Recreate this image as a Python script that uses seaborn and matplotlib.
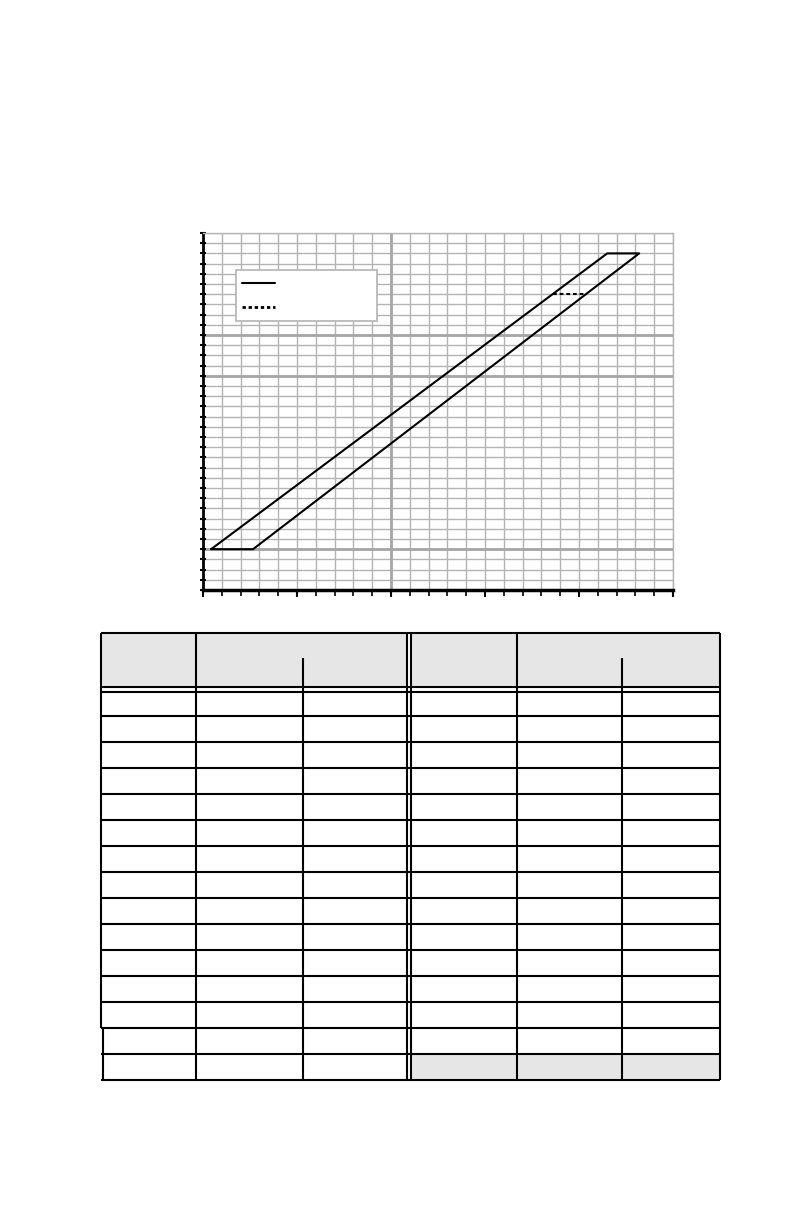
import numpy as np
import pandas as pd
import seaborn as sns
import matplotlib.pyplot as plt
from matplotlib.lines import Line2D
from matplotlib.patches import Rectangle

# chart values (grid cell units)
band_x = [0.43, 21.5, 23.2, 2.66, 0.43]
band_y = [4, 33, 33, 4, 4]
dash_x = [18.6, 20.4]
dash_y = [29, 29]

x_max = 25
y_max = 35
x_major = [10]
y_major = [4, 21, 25]

# table layout (pixels of the page)
col_edges = [101, 196, 303, 407, 411, 517, 622, 720]
split_cols = [303, 622]
n_rows = 15

sns.set_style('white')
fig = plt.figure(figsize=(7.92, 12.24), dpi=100)
W, H = 792, 1224

# ---- chart ----
ax = fig.add_axes([203 / W, 1 - 590 / H, 470 / W, 357 / H])
ax.set_xlim(0, x_max)
ax.set_ylim(0, y_max)

for xv in range(1, x_max + 1):
    ax.axvline(xv, color='#b3b3b3', lw=1.0, zorder=0)
for yv in range(1, y_max + 1):
    ax.axhline(yv, color='#b3b3b3', lw=1.0, zorder=0)
for xv in x_major:
    ax.axvline(xv, color='#a6a6a6', lw=2.0, zorder=0)
for yv in y_major:
    ax.axhline(yv, color='#a6a6a6', lw=2.0, zorder=0)

band = pd.DataFrame({'x': band_x, 'y': band_y})
sns.lineplot(data=band, x='x', y='y', sort=False, estimator=None,
             color='black', lw=1.5, ax=ax)
dash = pd.DataFrame({'x': dash_x, 'y': dash_y})
sns.lineplot(data=dash, x='x', y='y', sort=False, estimator=None,
             color='black', lw=1.5, linestyle=(0, (1.8, 1.4)), ax=ax)

ax.set_xlabel('')
ax.set_ylabel('')
ax.set_xticks(np.arange(0, x_max + 1, 5))
ax.set_xticks(np.arange(0, x_max + 1, 1), minor=True)
ax.set_yticks(np.arange(0, y_max + 1, 1))
ax.set_xticklabels([])
ax.set_yticklabels([])
ax.tick_params(axis='x', which='major', direction='out', length=5, width=1.5, color='black', bottom=True)
ax.tick_params(axis='x', which='minor', direction='out', length=4, width=1.2, color='black', bottom=True)
ax.tick_params(axis='y', direction='inout', length=5, width=1.5, color='black', left=True)

for side in ['top', 'right']:
    ax.spines[side].set_color('#b3b3b3')
    ax.spines[side].set_linewidth(1.0)
ax.spines['left'].set_color('black')
ax.spines['left'].set_linewidth(2.0)
ax.spines['bottom'].set_color('black')
ax.spines['bottom'].set_linewidth(2.5)

handles = [Line2D([], [], color='black', lw=1.5),
           Line2D([], [], color='black', lw=2.0, linestyle=(0, (1.2, 1.0)))]
leg = ax.legend(handles=handles, labels=['', ''], loc='upper left',
                bbox_to_anchor=(0.07, 0.896, 0.30, 0.0), mode='expand',
                fancybox=False, framealpha=1, edgecolor='#b3b3b3',
                handlelength=2.4, labelspacing=0.75, borderpad=0.45,
                borderaxespad=0, fontsize=10)
leg.get_frame().set_linewidth(1.2)

# ---- table ----
tx = fig.add_axes([0, 0, 1, 1])
tx.set_xlim(0, W)
tx.set_ylim(H, 0)
tx.axis('off')

line = dict(color='black', lw=1.5)
top, head_bot, body_top = 633, 687, 692
row_h = (1080 - 716) / (n_rows - 1)
row_lines = [716 + row_h * k for k in range(n_rows)]
bottom = row_lines[-1]

tx.add_patch(Rectangle((101, top), 407 - 101, head_bot - top, color='#e6e6e6', lw=0))
tx.add_patch(Rectangle((411, top), 720 - 411, head_bot - top, color='#e6e6e6', lw=0))
tx.add_patch(Rectangle((411, row_lines[-2]), 720 - 411, row_h, color='#e6e6e6', lw=0))

tx.hlines([top, head_bot, body_top] + row_lines, 101, 720, **line)
for cx in col_edges:
    if cx in split_cols:
        tx.vlines(cx, 658, bottom, **line)
    elif cx == 101:
        tx.vlines(101, top, row_lines[-3], **line)
        tx.vlines(102.5, row_lines[-3], bottom, **line)
    else:
        tx.vlines(cx, top, bottom, **line)

fig.savefig('out.png', dpi=100)
